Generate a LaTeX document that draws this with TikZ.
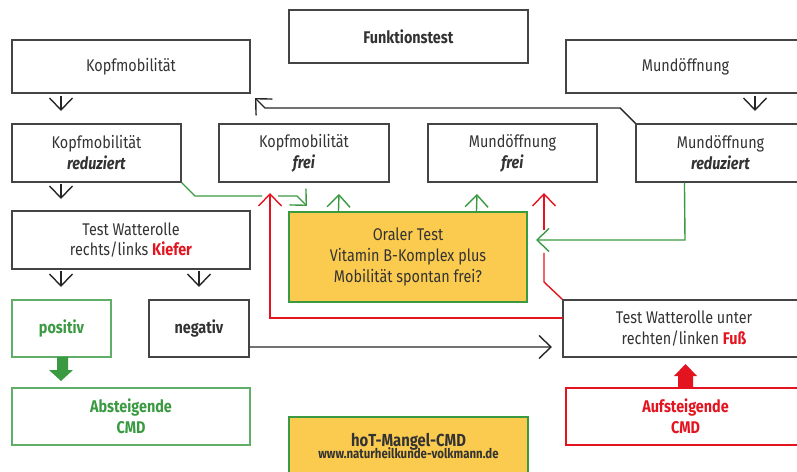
\documentclass[tikz,border=0pt]{standalone}
\usepackage{fontspec}
\setmainfont{Fira Sans}[FakeStretch=0.85]
\usetikzlibrary{arrows.meta}
\definecolor{tgray}{HTML}{333333}
\definecolor{bgray}{HTML}{444444}
\definecolor{cgreen}{HTML}{3A9A42}
\definecolor{cred}{HTML}{E3141F}
\definecolor{cyellow}{HTML}{FBCB4F}
\begin{document}
\begin{tikzpicture}[x=1bp,y=-1bp,
  font=\fontsize{17}{21}\selectfont,
  box/.style={draw=bgray, line width=1.1bp, fill=white, align=center, inner sep=0pt, text=tgray},
  gbox/.style={box, draw=cgreen!80, text=cgreen, font=\fontsize{17}{21}\selectfont\bfseries},
  rbox/.style={box, draw=cred, text=cred, font=\fontsize{17}{21}\selectfont\bfseries},
  ybox/.style={box, draw=cgreen, fill=cyellow},
  tip/.style={-{Straight Barb[length=12bp,width=23bp]}},
  karr/.style={tip, draw=black!85, line width=1.4bp},
  garr/.style={tip, draw=cgreen, line width=1.4bp},
  rarr/.style={tip, draw=cred, line width=1.4bp},
  gline/.style={draw=cgreen, line width=1.4bp},
  rline/.style={draw=cred, line width=1.4bp},
]
\useasboundingbox (0,0) rectangle (797,472);
% boxes
\node[box, minimum width=239bp, minimum height=53bp] (funk) at (408.5,36.5) {\textbf{Funktionstest}};
\node[box, minimum width=238bp, minimum height=53bp] (kopf) at (131,66.5) {Kopfmobilität};
\node[box, minimum width=239bp, minimum height=53bp] (mund) at (685.5,66.5) {Mundöffnung};
\node[box, minimum width=169bp, minimum height=58bp] (kopfred) at (96.5,153) {Kopfmobilität\\\textbf{\textit{reduziert}}};
\node[box, minimum width=170bp, minimum height=58bp] (kopffrei) at (304,153) {Kopfmobilität\\\textbf{\textit{frei}}};
\node[box, minimum width=169bp, minimum height=58bp] (mundfrei) at (512.5,153) {Mundöffnung\\\textbf{\textit{frei}}};
\node[box, minimum width=169bp, minimum height=58bp] (mundred) at (720.5,153) {Mundöffnung\\\textbf{\textit{reduziert}}};
\node[box, minimum width=238bp, minimum height=58bp] (kiefer) at (131,240) {Test Watterolle\\rechts/links \textcolor{cred}{\textbf{Kiefer}}};
\node[ybox, minimum width=238bp, minimum height=90bp] (oral) at (408,257) {Oraler Test\\Vitamin B-Komplex plus\\Mobilität spontan frei?};
\node[gbox, minimum width=99bp, minimum height=57bp] (pos) at (61.5,328.5) {positiv};
\node[box, minimum width=100bp, minimum height=57bp] (neg) at (199,328.5) {\textbf{negativ}};
\node[box, minimum width=242bp, minimum height=57bp] (fuss) at (684,328.5) {Test Watterolle unter\\rechten/linken \textcolor{cred}{\textbf{Fuß}}};
\node[gbox, minimum width=238bp, minimum height=57bp] (ab) at (131,416.5) {Absteigende\\CMD};
\node[ybox, minimum width=239bp, minimum height=58bp, font=\bfseries] (hot) at (408.5,446) {{\fontsize{17.5}{19}\selectfont hoT-Mangel-CMD}\\[-3bp]{\fontsize{13.5}{15}\selectfont www.naturheilkunde-volkmann.de}};
\node[rbox, minimum width=239bp, minimum height=57bp] (auf) at (685.5,416.5) {Aufsteigende\\CMD};
% short black arrows
\coordinate (a1s) at (61,96);  \coordinate (a1e) at (61,111);
\coordinate (a2s) at (61,184); \coordinate (a2e) at (61,199);
\coordinate (a3s) at (755,96); \coordinate (a3e) at (755,111);
\coordinate (a4s) at (61,271); \coordinate (a4e) at (61,287);
\coordinate (a5s) at (199,271); \coordinate (a5e) at (199,287);
\draw[karr] (a1s) -- (a1e);
\draw[karr] (a2s) -- (a2e);
\draw[karr] (a3s) -- (a3e);
\draw[karr] (a4s) -- (a4e);
\draw[karr] (a5s) -- (a5e);
% long black arrow from Mundoeffnung reduziert to Kopfmobilitaet
\draw[karr] (mundred.north west) -- (620,108) -- (265,108) -- (255,98);
% negativ -> Fuss
\coordinate (negend) at (552,347);
\draw[karr] ([yshift=-18.5bp]neg.east) -- (negend);
% green line from Kopfmobilitaet reduziert
\draw[gline] (kopfred.south east) -- (195,196) -- (262,196);
\draw[garr] (278,196) -- (297,196) -- (307,206);
% green arrows up from oral test
\draw[garr] ([xshift=50bp]oral.north west) -- (339,194);
\draw[garr] ([xshift=188bp]oral.north west) -- (477,194);
% green line from Mundoeffnung reduziert to oral test
\draw[garr] ([xshift=49bp]mundred.south west) -- (685,240) -- (536,240);
% red lines from Fuss
\coordinate (r1) at (563,318);
\draw[rarr] (r1) -- (270,318) -- (270,193);
\draw[rline] (fuss.north west) -- (544,282) -- (544,253);
\draw[rarr] (544,230) -- (544,193);
% block arrows
\fill[cgreen] (57,357) -- (68,357) -- (68,370) -- (73,370) -- (61,381) -- (49,370) -- (57,370) -- cycle;
\fill[cred] (678,388) -- (693,388) -- (693,376) -- (697,376) -- (685.5,364) -- (674,376) -- (678,376) -- cycle;
\end{tikzpicture}
\end{document}
